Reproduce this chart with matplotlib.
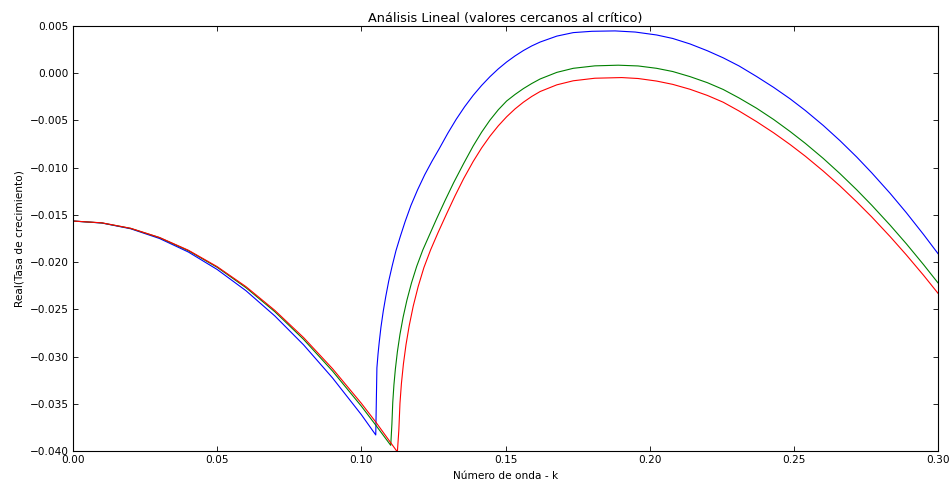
import matplotlib
matplotlib.use("Agg")
import matplotlib.pyplot as plt

# Wavenumber k and Real(growth rate)
k_blue = [0.0, 0.01, 0.02, 0.03, 0.04, 0.05, 0.06, 0.07, 0.08, 0.09, 0.10, 0.1050,
          0.1054, 0.1058, 0.1062, 0.1068, 0.1076, 0.1085, 0.1095, 0.1107, 0.1120, 0.1135,
          0.1152, 0.1172, 0.1195, 0.1220, 0.1245, 0.1270, 0.1300, 0.1329, 0.1358, 0.1388,
          0.1417, 0.1446, 0.1475, 0.1504, 0.1533, 0.1562, 0.1591, 0.1620, 0.1678, 0.1735,
          0.1800, 0.1880, 0.1950, 0.2024, 0.2080, 0.2140, 0.2200, 0.2255, 0.2310, 0.2371,
          0.2430, 0.2487, 0.2540, 0.2602, 0.2660, 0.2718, 0.2770, 0.2834, 0.2890, 0.2950,
          0.3000]
v_blue = [-0.01565, -0.01586, -0.01647, -0.01750, -0.01893, -0.02078, -0.02303, -0.02570, -0.02877, -0.03226, -0.03615, -0.0383,
          -0.0312, -0.0297, -0.0285, -0.0269, -0.0252, -0.0236, -0.0220, -0.0204, -0.0188, -0.0173,
          -0.0157, -0.0140, -0.01235, -0.01074, -0.00932, -0.0080, -0.00635, -0.00488, -0.00356, -0.00234,
          -0.0013, -0.00037, 0.00046, 0.00119, 0.00183, 0.0024, 0.00289, 0.0033, 0.00393, 0.0043,
          0.00444, 0.00448, 0.00436, 0.00405, 0.00368, 0.0031, 0.00238, 0.00163, 0.00077, -0.00035,
          -0.0015, -0.00271, -0.00395, -0.00553, -0.00714, -0.00887, -0.01054, -0.01272, -0.01476, -0.01708,
          -0.0191]

k_green = [0.0, 0.01, 0.02, 0.03, 0.04, 0.05, 0.06, 0.07, 0.08, 0.09, 0.10, 0.105, 0.1102,
           0.1106, 0.1109, 0.1113, 0.1118, 0.1125, 0.1134, 0.1145, 0.1158, 0.1174, 0.1192,
           0.1213, 0.1238, 0.1262, 0.1290, 0.1320, 0.1355, 0.1388, 0.1417, 0.1446, 0.1475,
           0.1504, 0.1533, 0.1562, 0.1591, 0.1620, 0.1678, 0.1735, 0.1810, 0.1891, 0.1960,
           0.2024, 0.2080, 0.2140, 0.2200, 0.2255, 0.2310, 0.2371, 0.2430, 0.2487, 0.2540,
           0.2602, 0.2660, 0.2718, 0.2770, 0.2834, 0.2890, 0.2950, 0.3000]
v_green = [-0.01565, -0.01585, -0.01643, -0.01741, -0.01879, -0.02055, -0.02271, -0.02525, -0.02819, -0.03153, -0.03525, -0.03726, -0.0394,
           -0.03715, -0.03485, -0.03301, -0.03134, -0.0295, -0.02765, -0.02582, -0.02404, -0.0222, -0.02045,
           -0.01873, -0.0170, -0.01535, -0.0135, -0.0116, -0.00955, -0.0077, -0.00625, -0.00497, -0.00387,
           -0.00294, -0.00225, -0.00163, -0.00109, -0.00061, 0.00009, 0.00052, 0.00078, 0.00085, 0.00077,
           0.00052, 0.00018, -0.00036, -0.0010, -0.00172, -0.00262, -0.00371, -0.0049, -0.00617, -0.00743,
           -0.00902, -0.01063, -0.01234, -0.01397, -0.01609, -0.01805, -0.02027, -0.0222]

k_red = [0.0, 0.01, 0.02, 0.03, 0.04, 0.05, 0.06, 0.07, 0.08, 0.09, 0.10, 0.105, 0.1125,
         0.1130, 0.1134, 0.1139, 0.1146, 0.1155, 0.1166, 0.1180, 0.1197, 0.1217, 0.1240,
         0.1266, 0.1296, 0.1325, 0.1355, 0.1388, 0.1417, 0.1446, 0.1475, 0.1504, 0.1533,
         0.1562, 0.1591, 0.1620, 0.1678, 0.1735, 0.1810, 0.1903, 0.1960, 0.2024, 0.2080,
         0.2140, 0.2200, 0.2255, 0.2310, 0.2371, 0.2430, 0.2487, 0.2540, 0.2602, 0.2660,
         0.2718, 0.2770, 0.2834, 0.2890, 0.2950, 0.3000]
v_red = [-0.01565, -0.01584, -0.01642, -0.01739, -0.01874, -0.02048, -0.02260, -0.02511, -0.02800, -0.03128, -0.03495, -0.03693, -0.0401,
         -0.03783, -0.03495, -0.03286, -0.03077, -0.02873, -0.02674, -0.02466, -0.0226, -0.02058, -0.01872,
         -0.01688, -0.01487, -0.01298, -0.01115, -0.00934, -0.00792, -0.00667, -0.00557, -0.00461, -0.00378,
         -0.00307, -0.00246, -0.00194, -0.00123, -0.0008, -0.00053, -0.00046, -0.00056, -0.00083, -0.00118,
         -0.0017, -0.00235, -0.00307, -0.0040, -0.00513, -0.00631, -0.00755, -0.00879, -0.01036, -0.01193,
         -0.01362, -0.01521, -0.0173, -0.01923, -0.0214, -0.0233]

x_ticks = [0.00, 0.05, 0.10, 0.15, 0.20, 0.25, 0.30]
y_ticks = [0.005, 0.000, -0.005, -0.010, -0.015, -0.020, -0.025, -0.030, -0.035, -0.040]

title = "Análisis Lineal (valores cercanos al crítico)"
xlabel = "Número de onda - k"
ylabel = "Real(Tasa de crecimiento)"

FS = 7.6
plt.rcParams['font.family'] = ['DejaVu Sans']
fig = plt.figure(figsize=(9.5, 4.83), dpi=100, facecolor='white')
ax = fig.add_axes([73 / 950, 1 - 451 / 483, (938 - 73) / 950, (451 - 26) / 483])

ax.plot(k_blue, v_blue, color='#0000ff', lw=0.8)
ax.plot(k_green, v_green, color='#008000', lw=0.8)
ax.plot(k_red, v_red, color='#ff0000', lw=0.8)

ax.set_xlim(0.0, 0.30)
ax.set_ylim(-0.040, 0.005)
ax.set_xticks(x_ticks)
ax.set_yticks(y_ticks)
ax.set_xticklabels([f"{t:.2f}" for t in x_ticks])
ax.set_yticklabels([f"{t:.3f}".replace('-', '\u2212') for t in y_ticks])
ax.tick_params(direction='in', top=True, right=True, length=3.5, width=0.6,
               labelsize=FS, pad=3)
for s in ax.spines.values():
    s.set_linewidth(0.8)

ax.set_title(title, fontsize=9.3, pad=3)
ax.set_xlabel(xlabel, fontsize=FS, labelpad=4)
ax.set_ylabel(ylabel, fontsize=FS, labelpad=4)

fig.savefig("out.png", dpi=100, facecolor='white')
